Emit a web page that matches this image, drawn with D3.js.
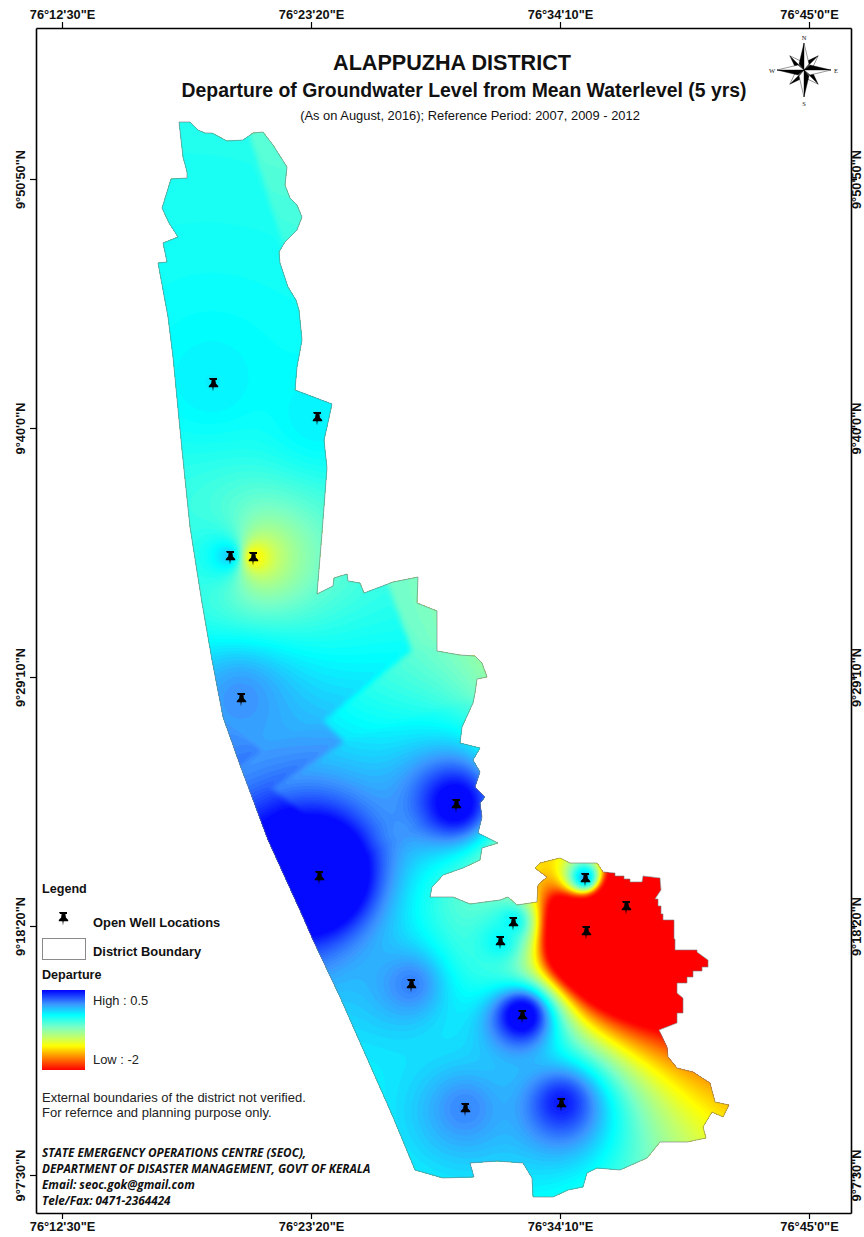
<!DOCTYPE html>
<html>
<head>
<meta charset="utf-8">
<script src="https://cdnjs.cloudflare.com/ajax/libs/d3/7.8.5/d3.min.js"></script>
<style>
body { margin: 0; background: #fff; }
text { font-family: "Liberation Sans", Arial, sans-serif; fill: #111; }
.tick text { font-size: 12.8px; font-weight: bold; }
.foot { font-family: "Open Sans", sans-serif; font-style: italic; font-weight: 700; font-size: 11.75px; }
</style>
</head>
<body>
<svg id="map" width="864" height="1237"></svg>
<script>
// map units: 249 units = one graticule cell (10'50"), origin at 76°12'30"E / 9°50'50"N
var lonLabels = ["76°12'30\"E", "76°23'20\"E", "76°34'10\"E", "76°45'0\"E"];
var latLabels = ["9°50'50\"N", "9°40'0\"N", "9°29'10\"N", "9°18'20\"N", "9°7'30\"N"];
var lonTicks = [0, 249, 498, 747];
var latTicks = [0, 249, 498, 747, 996];

// departure stretch, legend top to bottom
var stretchValues = [0.5, 0.06, -0.28, -0.65, -1.0, -1.25, -1.55, -2];
var stretchColors = ["#0000ff", "#3c96ff", "#00ffff", "#78ffc8", "#c8ff64", "#ffff00", "#ff9900", "#ff0000"];

var boundary = [[117,-57],[128,-57],[136,-49],[143,-46],[150,-46],[165,-38],[181,-39],[191,-46],[201,-47],[211,-34],[225,-12],[223,6],[228,19],[235,26],[240,38],[235,51],[223,63],[217,73],[218,84],[226,108],[234,121],[237,131],[240,161],[235,188],[233,211],[270,225],[265,248],[262,261],[265,289],[260,354],[255,415],[271,407],[272,399],[285,395],[286,402],[298,404],[302,414],[318,408],[331,403],[356,398],[355,424],[375,432],[375,472],[398,476],[413,477],[420,484],[425,498],[415,500],[413,514],[411,524],[400,548],[398,564],[418,569],[411,581],[418,593],[413,608],[423,618],[418,624],[420,638],[416,654],[436,664],[420,669],[418,681],[401,689],[381,696],[370,708],[368,718],[391,718],[408,725],[438,721],[446,718],[455,726],[475,723],[476,706],[485,698],[473,689],[478,684],[498,679],[508,684],[535,684],[541,693],[553,694],[553,697],[562,697],[562,700],[568,700],[568,703],[580,703],[581,697],[598,699],[599,711],[593,720],[596,720],[596,727],[599,727],[599,735],[601,735],[601,741],[612,741],[612,760],[613,760],[613,771],[635,771],[635,773],[646,781],[646,788],[640,788],[640,792],[631,792],[631,798],[625,798],[625,804],[615,804],[615,814],[621,819],[621,834],[615,834],[615,844],[597,851],[605,868],[606,878],[615,889],[631,893],[648,904],[653,923],[667,926],[661,938],[650,933],[641,948],[644,959],[625,963],[598,963],[585,979],[558,991],[535,989],[525,994],[521,1008],[506,1011],[491,1018],[471,1018],[470,999],[461,984],[435,982],[408,984],[412,998],[381,999],[353,991],[331,938],[278,818],[251,761],[241,738],[206,661],[178,586],[161,538],[150,481],[140,424],[128,348],[120,271],[111,178],[106,138],[96,84],[105,83],[101,64],[116,58],[107,44],[100,29],[109,0],[125,-1],[125,-7],[121,-22]];

var wellEast = [151,255,168,191,179,394,257,523,564,451,524,438,349,460,403,499];
var wellSouth = [204,238,377,378,519,625,697,699,727,743,752,762,805,836,929,924];
var wellDeparture = [-0.22,-0.22,-0.08,-1.3,0.08,0.65,1.4,0.05,-7,-0.25,-7,-0.25,0.14,0.75,0.12,0.45];

var northArrowPoints = ["N", "E", "S", "W"];
var legendNotes = ["External boundaries of the district not verified.", "For refernce and planning purpose only."];
var footerLines = ["STATE EMERGENCY OPERATIONS CENTRE (SEOC),", "DEPARTMENT OF DISASTER MANAGEMENT, GOVT OF KERALA", "Email: seoc.gok@gmail.com", "Tele/Fax: 0471-2364424"];

var svg = d3.select("#map");
var x = d3.scaleLinear().domain([-26, 789]).range([36, 851]);
var y = d3.scaleLinear().domain([-151, 1034]).range([28, 1213]);
var color = d3.scaleLinear().domain(stretchValues).range(stretchColors).clamp(true);

// inverse distance weighting, 12 nearest wells, power 2
function buildSurface(step) {
    var e0 = 80, s0 = -70, w = Math.ceil(610 / step), h = Math.ceil(1110 / step);
    var values = new Float64Array(w * h);
    for (var j = 0; j < h; j++) {
        for (var i = 0; i < w; i++) {
            var near = wellEast.map(function(e, k) {
                var dx = e0 + i * step - e, dy = s0 + j * step - wellSouth[k];
                return [dx * dx + dy * dy + 4, wellDeparture[k]];
            }).sort(function(a, b) { return a[0] - b[0]; }).slice(0, 12);
            var sum = 0, weight = 0;
            near.forEach(function(n) { sum += n[1] / n[0]; weight += 1 / n[0]; });
            values[j * w + i] = Math.max(-2.01, Math.min(0.51, sum / weight));
        }
    }
    d3.blur2({data: values, width: w, height: h}, 0.6);
    return {values: values, w: w, h: h, e0: e0, s0: s0, step: step};
}

function drawSurface() {
    var surf = buildSurface(2);
    var thresholds = d3.range(1, 90).map(function(i) { return -2 + i * 2.5 / 90; });
    var contours = d3.contours().size([surf.w, surf.h]).smooth(true).thresholds(thresholds)(Array.from(surf.values));
    var path = d3.geoPath(d3.geoTransform({
        point: function(a, b) {
            this.stream.point(x(surf.e0 + (a - 0.5) * surf.step), y(surf.s0 + (b - 0.5) * surf.step));
        }
    }));
    var line = d3.line().x(function(d) { return x(d[0]); }).y(function(d) { return y(d[1]); }).curve(d3.curveLinearClosed);

    svg.append("clipPath").attr("id", "district").append("path").attr("d", line(boundary));
    var g = svg.append("g").attr("clip-path", "url(#district)");
    g.append("path").attr("d", line(boundary)).attr("fill", color(-2));
    g.selectAll("path.band").data(contours).enter().append("path")
        .attr("class", "band")
        .attr("d", path)
        .attr("fill", function(d) { return color(d.value); });
    svg.append("path").attr("d", line(boundary))
        .attr("fill", "none").attr("stroke", "#777").attr("stroke-width", 0.6);
}

var pinPath = "M-4,-5h8v2h-1.6l0.5,3.6l2.3,2.4v1.2h-9.4v-1.2l2.3,-2.4l0.5,-3.6h-1.6zM-0.6,4.2h1.2l-0.6,4.3z";

function drawWells() {
    svg.selectAll("path.well").data(wellEast).enter().append("path")
        .attr("class", "well")
        .attr("d", pinPath)
        .attr("transform", function(d, i) { return "translate(" + x(d) + "," + y(wellSouth[i]) + ")"; })
        .attr("fill", "#000");
}

function drawAxes() {
    function lonFmt(d, i) { return lonLabels[i]; }
    function latFmt(d, i) { return latLabels[i]; }
    var axes = [
        {a: d3.axisTop(x).tickValues(lonTicks).tickFormat(lonFmt), t: [0, 28]},
        {a: d3.axisBottom(x).tickValues(lonTicks).tickFormat(lonFmt), t: [0, 1213]},
        {a: d3.axisLeft(y).tickValues(latTicks).tickFormat(latFmt), t: [36, 0]},
        {a: d3.axisRight(y).tickValues(latTicks).tickFormat(latFmt), t: [851, 0]}
    ];
    axes.forEach(function(o, n) {
        var g = svg.append("g").attr("transform", "translate(" + o.t + ")")
            .attr("font-family", null).attr("font-size", null)
            .call(o.a.tickSize(6).tickSizeOuter(0));
        g.select(".domain").attr("stroke", "#000").attr("stroke-width", 1.6);
        g.selectAll(".tick line").attr("stroke", "#000").attr("stroke-width", 1.2);
        if (n >= 2) {
            g.selectAll(".tick text")
                .attr("text-anchor", "middle").attr("dy", null).attr("x", 0).attr("y", 0)
                .attr("transform", "translate(" + (n === 2 ? -11 : 10) + ",0) rotate(-90)");
        }
    });
}

function drawTitle() {
    var rows = [
        {s: "ALAPPUZHA DISTRICT", x: 452, y: 70, size: 21.6, w: "bold"},
        {s: "Departure of Groundwater Level from Mean Waterlevel (5 yrs)", x: 464, y: 97, size: 19.4, w: "bold"},
        {s: "(As on August, 2016); Reference Period: 2007, 2009 - 2012", x: 470, y: 120, size: 12.9, w: "normal"}
    ];
    svg.selectAll("text.title").data(rows).enter().append("text")
        .attr("class", "title")
        .attr("x", function(d) { return d.x; }).attr("y", function(d) { return d.y; })
        .attr("text-anchor", "middle")
        .attr("font-size", function(d) { return d.size; })
        .attr("font-weight", function(d) { return d.w; })
        .text(function(d) { return d.s; });
}

function drawCompass() {
    var g = svg.append("g").attr("transform", "translate(804,70)");
    // diagonal points sit under the main ones
    [[45, 20], [135, 20], [225, 20], [315, 20], [0, 27], [90, 27], [180, 27], [270, 27]].forEach(function(d) {
        var leg = g.append("g").attr("transform", "rotate(" + d[0] + ")");
        leg.append("path").attr("d", "M0,0L0," + (-d[1]) + "L-5,-6z").attr("fill", "#000").attr("stroke", "#000").attr("stroke-width", 0.4);
        leg.append("path").attr("d", "M0,0L0," + (-d[1]) + "L5,-6z").attr("fill", "#fff").attr("stroke", "#000").attr("stroke-width", 0.4);
    });
    var offsets = {N: [0, -30], E: [32, 3], S: [0, 36], W: [-32, 3]};
    g.selectAll("text").data(northArrowPoints).enter().append("text")
        .attr("x", function(d) { return offsets[d][0]; })
        .attr("y", function(d) { return offsets[d][1]; })
        .attr("text-anchor", "middle")
        .style("font-family", "'Liberation Serif', serif")
        .attr("font-size", 6.5)
        .text(function(d) { return d; });
}

function drawLegend() {
    var g = svg.append("g");
    function label(s, px, py, size, weight, fill) {
        g.append("text").attr("x", px).attr("y", py).attr("font-size", size)
            .attr("font-weight", weight).style("fill", fill || "#111").text(s);
    }
    label("Legend", 42, 893, 12.6, "bold");
    g.append("path").attr("d", pinPath).attr("transform", "translate(63,917)").attr("fill", "#000");
    label("Open Well Locations", 93, 927, 12.9, "bold");
    g.append("rect").attr("x", 42.5).attr("y", 938.5).attr("width", 43).attr("height", 21)
        .attr("fill", "#fff").attr("stroke", "#8a8a8a");
    label("District Boundary", 93, 956, 12.9, "bold");
    label("Departure", 42, 979, 12.6, "bold");

    var legendScale = d3.scaleLinear().domain([0.5, -2]).range([990, 1070]);
    var grad = svg.append("defs").append("linearGradient").attr("id", "stretch")
        .attr("x1", 0).attr("x2", 0).attr("y1", 0).attr("y2", 1);
    grad.selectAll("stop").data(stretchValues).enter().append("stop")
        .attr("offset", function(d) { return (legendScale(d) - 990) / 80; })
        .attr("stop-color", function(d) { return color(d); });
    g.append("rect").attr("x", 42).attr("y", 990).attr("width", 43).attr("height", 80).attr("fill", "url(#stretch)");
    label("High : 0.5", 93, 1005, 12.9, "normal", "#222");
    label("Low : -2", 93, 1064, 12.9, "normal", "#222");

    legendNotes.forEach(function(s, i) { label(s, 42, 1102 + i * 14.6, 13, "normal", "#222"); });
    g.selectAll("text.foot").data(footerLines).enter().append("text")
        .attr("class", "foot")
        .attr("x", 42)
        .attr("y", function(d, i) { return 1157 + i * 16; })
        .text(function(d) { return d; });
}

drawSurface();
drawWells();
drawAxes();
drawTitle();
drawCompass();
drawLegend();
</script>
</body>
</html>
